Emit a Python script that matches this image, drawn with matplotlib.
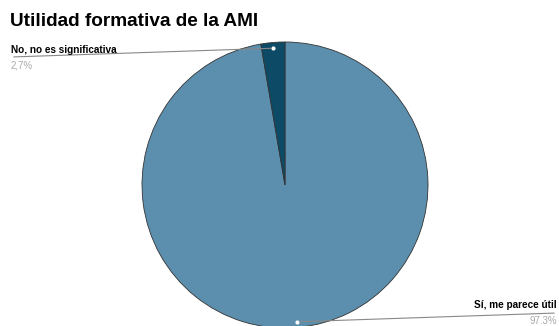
import matplotlib
matplotlib.use('Agg')
import matplotlib.pyplot as plt
import numpy as np

plt.rcParams['font.family'] = ['Liberation Sans', 'DejaVu Sans']

title = 'Utilidad formativa de la AMI'
labels = ['Sí, me parece útil', 'No, no es significativa']
values = [97.3, 2.7]
pct_text = ['97.3%', '2,7%']
colors = ['#5b8fad', '#0d4a66']

W, H = 559, 326
fig = plt.figure(figsize=(W/100, H/100), dpi=100)

def fx(x):
    return x / W

def fy(y):
    return 1 - y / H

# pie centre and radius in pixels
cx, cy, r = 285, 185, 143
ax = fig.add_axes([fx(cx - r), fy(cy + r), 2*r/W, 2*r/H])
wedges, _ = ax.pie(values, colors=colors, startangle=90, counterclock=False,
                   wedgeprops=dict(edgecolor='#333333', linewidth=0.6))
ax.set_xlim(-1, 1)
ax.set_ylim(-1, 1)
ax.set_aspect('equal')
ax.axis('off')

fig.text(fx(10), fy(22), title, fontsize=13.7, fontweight='bold', va='center', ha='left')

# label positions (text anchor, line end) in pixels
lab_pos = [(557, 305, 'right'), (11, 50, 'left')]
line_end = [(557, 313), (11, 57)]

for w, lab, pct, (tx, ty, ha), (lx, ly) in zip(wedges, labels, pct_text, lab_pos, line_end):
    ang = np.deg2rad((w.theta1 + w.theta2) / 2)
    px, py = 0.96*np.cos(ang), 0.96*np.sin(ang)
    ax.annotate('', xy=(px, py), xycoords='data',
                xytext=(fx(lx), fy(ly)), textcoords='figure fraction',
                arrowprops=dict(arrowstyle='-', color='#888888', lw=0.8),
                annotation_clip=False)
    ax.plot(px, py, 'o', ms=2, color='white', clip_on=False)
    fig.text(fx(tx), fy(ty), lab, fontsize=7.2, fontweight='bold', ha=ha, va='center')
    fig.text(fx(tx), fy(ty + 16), pct, fontsize=7, color='#aaaaaa', ha=ha, va='center')

fig.savefig('out.png', dpi=100)
